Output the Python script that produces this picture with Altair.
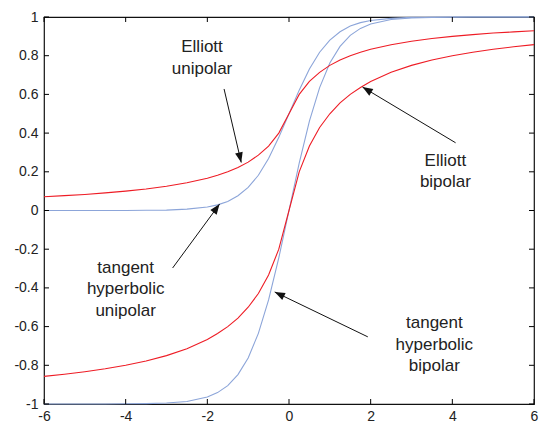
import math
import altair as alt
import pandas as pd

# ---------------- data ----------------
x_vals = [-6, -5.5, -5, -4.5, -4, -3.5, -3, -2.5, -2, -1.75, -1.5, -1.25, -1, -0.75,
          -0.5, -0.25, 0, 0.25, 0.5, 0.75, 1, 1.25, 1.5, 1.75, 2, 2.5, 3, 3.5, 4,
          4.5, 5, 5.5, 6]

elliott_unipolar = [0.071, 0.077, 0.083, 0.091, 0.100, 0.111, 0.125, 0.143, 0.167,
                    0.182, 0.200, 0.222, 0.250, 0.286, 0.333, 0.400, 0.500, 0.600,
                    0.667, 0.714, 0.750, 0.778, 0.800, 0.818, 0.833, 0.857, 0.875,
                    0.889, 0.900, 0.909, 0.917, 0.923, 0.929]

elliott_bipolar = [-0.857, -0.846, -0.833, -0.818, -0.800, -0.778, -0.750, -0.714,
                   -0.667, -0.636, -0.600, -0.556, -0.500, -0.429, -0.333, -0.200,
                   0.000, 0.200, 0.333, 0.429, 0.500, 0.556, 0.600, 0.636, 0.667,
                   0.714, 0.750, 0.778, 0.800, 0.818, 0.833, 0.846, 0.857]

tanh_unipolar = [0.000, 0.000, 0.000, 0.000, 0.000, 0.001, 0.002, 0.007, 0.018,
                 0.029, 0.047, 0.076, 0.119, 0.182, 0.269, 0.378, 0.500, 0.622,
                 0.731, 0.818, 0.881, 0.924, 0.953, 0.971, 0.982, 0.993, 0.998,
                 0.999, 1.000, 1.000, 1.000, 1.000, 1.000]

tanh_bipolar = [-1.000, -1.000, -1.000, -1.000, -0.999, -0.998, -0.995, -0.987,
                -0.964, -0.941, -0.905, -0.848, -0.762, -0.635, -0.462, -0.245,
                0.000, 0.245, 0.462, 0.635, 0.762, 0.848, 0.905, 0.941, 0.964,
                0.987, 0.995, 0.998, 0.999, 1.000, 1.000, 1.000, 1.000]

x_ticks = [-6, -4, -2, 0, 2, 4, 6]
y_ticks = [-1, -0.8, -0.6, -0.4, -0.2, 0, 0.2, 0.4, 0.6, 0.8, 1]

ann_text = ["Elliott", "unipolar",
            "tangent", "hyperbolic", "unipolar",
            "Elliott", "bipolar",
            "tangent", "hyperbolic", "bipolar"]
ann_x = [-2.13, -2.13, -4.0, -4.0, -4.0, 3.83, 3.83, 3.56, 3.56, 3.56]
ann_y = [0.819, 0.707, -0.324, -0.434, -0.545, 0.232, 0.122, -0.608, -0.721, -0.829]

arrow_x0 = [-1.59, -2.85, 4.08, 1.93]
arrow_y0 = [0.628, -0.297, 0.350, -0.653]
arrow_x1 = [-1.17, -1.70, 1.80, -0.35]
arrow_y1 = [0.248, 0.033, 0.638, -0.421]

# ---------------- layout / style ----------------
W, H = 490, 387
BLUE = "#8ca5d9"
RED = "#ee1c25"
FONT = "Liberation Sans"

rows = []
for name, ys in [("tanh unipolar", tanh_unipolar), ("tanh bipolar", tanh_bipolar),
                 ("elliott unipolar", elliott_unipolar), ("elliott bipolar", elliott_bipolar)]:
    for xv, yv in zip(x_vals, ys):
        rows.append({"x": xv, "y": yv, "series": name})
curves = pd.DataFrame(rows)

xs = alt.Scale(domain=[-6, 6], nice=False, zero=False)
ys_ = alt.Scale(domain=[-1, 1], nice=False, zero=False)
x_axis = alt.Axis(values=x_ticks, title=None, ticks=False, domain=False, grid=False,
                  labelExpr="'' + datum.value", labelFlush=False, labelOverlap=False,
                  labelFont=FONT, labelFontSize=14, labelColor="#222", labelPadding=5)
y_axis = alt.Axis(values=y_ticks, title=None, ticks=False, domain=False, grid=False,
                  labelExpr="'' + datum.value", labelFlush=False, labelOverlap=False,
                  labelFont=FONT, labelFontSize=14, labelColor="#222", labelPadding=6)

blue_lines = alt.Chart(curves[curves.series.str.startswith("tanh")]).mark_line(
    color=BLUE, strokeWidth=1.1).encode(
    x=alt.X("x:Q", scale=xs, axis=x_axis),
    y=alt.Y("y:Q", scale=ys_, axis=y_axis),
    detail="series:N")

red_lines = alt.Chart(curves[curves.series.str.startswith("elliott")]).mark_line(
    color=RED, strokeWidth=1.1).encode(
    x=alt.X("x:Q", scale=xs, axis=x_axis),
    y=alt.Y("y:Q", scale=ys_, axis=y_axis),
    detail="series:N")

xt_df = pd.DataFrame({"t": x_ticks})
yt_df = pd.DataFrame({"t": y_ticks})
TL = 5
tick_b = alt.Chart(xt_df).mark_rule(color="black").encode(
    x=alt.X("t:Q", scale=xs, axis=x_axis), y=alt.value(H), y2=alt.value(H - TL))
tick_t = alt.Chart(xt_df).mark_rule(color="black").encode(
    x=alt.X("t:Q", scale=xs, axis=x_axis), y=alt.value(0), y2=alt.value(TL))
tick_l = alt.Chart(yt_df).mark_rule(color="black").encode(
    y=alt.Y("t:Q", scale=ys_, axis=y_axis), x=alt.value(0), x2=alt.value(TL))
tick_r = alt.Chart(yt_df).mark_rule(color="black").encode(
    y=alt.Y("t:Q", scale=ys_, axis=y_axis), x=alt.value(W), x2=alt.value(W - TL))

ann_df = pd.DataFrame({"text": ann_text, "x": ann_x, "y": ann_y})
texts = alt.Chart(ann_df).mark_text(font=FONT, fontSize=17, align="center",
                                    baseline="alphabetic", color="#222").encode(
    x=alt.X("x:Q", scale=xs, axis=x_axis),
    y=alt.Y("y:Q", scale=ys_, axis=y_axis),
    text="text:N")

angles = []
for a, b, c, d in zip(arrow_x0, arrow_y0, arrow_x1, arrow_y1):
    dx = (c - a) * W / 12.0
    dy = -(d - b) * H / 2.0
    angles.append(math.degrees(math.atan2(dy, dx)) % 360)
arr_df = pd.DataFrame({"x0": arrow_x0, "y0": arrow_y0, "x1": arrow_x1,
                       "y1": arrow_y1, "ang": angles})

arrow_lines = alt.Chart(arr_df).mark_rule(color="#111", strokeWidth=1).encode(
    x=alt.X("x0:Q", scale=xs, axis=x_axis), y=alt.Y("y0:Q", scale=ys_, axis=y_axis),
    x2="x1:Q", y2="y1:Q")
arrow_heads = alt.Chart(arr_df).mark_point(
    shape="M0,0 L-1,-0.38 L-1,0.38 Z", filled=True, color="#111", opacity=1,
    size=420, strokeWidth=0).encode(
    x=alt.X("x1:Q", scale=xs, axis=x_axis), y=alt.Y("y1:Q", scale=ys_, axis=y_axis),
    angle=alt.Angle("ang:Q", scale=None))

chart = alt.layer(blue_lines, red_lines, tick_b, tick_t, tick_l, tick_r,
                  arrow_lines, arrow_heads, texts).properties(
    width=W, height=H, autosize=alt.AutoSizeParams(type="none"),
    padding={"left": 44, "top": 17, "right": 8, "bottom": 18},
    background="white"
).configure_view(stroke="#111", strokeWidth=1.2)

chart.save("out.html", embed_options={"renderer": "svg", "actions": False})
